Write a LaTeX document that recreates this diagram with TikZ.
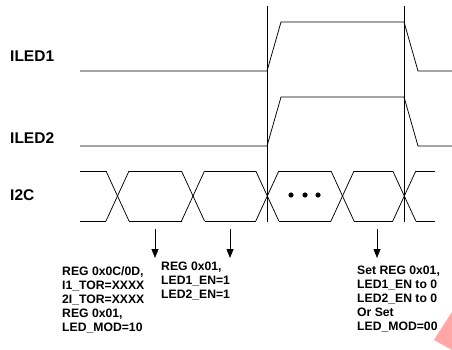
\documentclass[tikz,border=0pt]{standalone}
\usepackage{fontspec}
\setmainfont{Liberation Sans}
\usetikzlibrary{arrows.meta,positioning}

\begin{document}
\begin{tikzpicture}[
  x=1pt, y=-1pt,
  every node/.style={inner sep=0pt},
  signame/.style={anchor=west, font=\bfseries\fontsize{15.5}{18}\selectfont},
  wave/.style={line width=0.75pt, line join=miter},
  marker/.style={-{Triangle[length=9pt,width=7pt]}, line width=0.75pt},
  note/.style={anchor=north west, align=left,
    font=\bfseries\fontsize{12.2}{14}\selectfont}
]
\useasboundingbox (0,0) rectangle (452,350);
% faint mark in the corner
\fill[red!35!white] (452,312) -- (452,350) -- (434,340) -- cycle;
% signal names
\node[signame] (iled1) at (10,56) {ILED1};
\node[signame] (iled2) at (10,138) {ILED2};
\node[signame] (i2c) at (10,195) {I2C};
% enable window
\draw[wave] (267,6) -- (267,222);
\draw[wave] (404,6) -- (404,222);
% LED currents
\draw[wave] (80,71) -- (267,71) -- (281,22) -- (404,22) -- (418,71) -- (452,71);
\draw[wave] (80,146) -- (267,146) -- (281,97) -- (404,97) -- (418,146) -- (452,146);
% I2C bus
\def\hw{11.5}
\foreach \xa/\xb in {80/106,129/181.5,204.5/255.8,278.8/331,354/392.8,415.8/435}{
  \draw[wave] (\xa,171) -- (\xb,171);
  \draw[wave] (\xa,221) -- (\xb,221);
}
\foreach \xc in {117.5,193,267.3,342.5,404.3}{
  \draw[wave] (\xc-\hw,171) -- (\xc+\hw,221);
  \draw[wave] (\xc-\hw,221) -- (\xc+\hw,171);
}
\foreach \xd in {291,305,318}
  \fill (\xd,195) circle (2.6pt);
% register writes
\node[note] (cfg) at (62,266) {REG 0x0C/0D,\\I1\_TOR=XXXX\\2I\_TOR=XXXX\\REG 0x01,\\LED\_MOD=10};
\node[note] (en) at (161,262) {REG 0x01,\\LED1\_EN=1\\LED2\_EN=1};
\node[note] (dis) at (357,266) {Set REG 0x01,\\LED1\_EN to 0\\LED2\_EN to 0\\Or Set\\LED\_MOD=00};
\coordinate (s1) at (155,229);
\coordinate (t1) at (155,258);
\coordinate (s2) at (230,229);
\coordinate (t2) at (230,258);
\coordinate (s3) at (377,229);
\coordinate (t3) at (377,258);
\foreach \k in {1,2,3}
  \draw[marker] (s\k) -- (t\k);
\end{tikzpicture}
\end{document}
